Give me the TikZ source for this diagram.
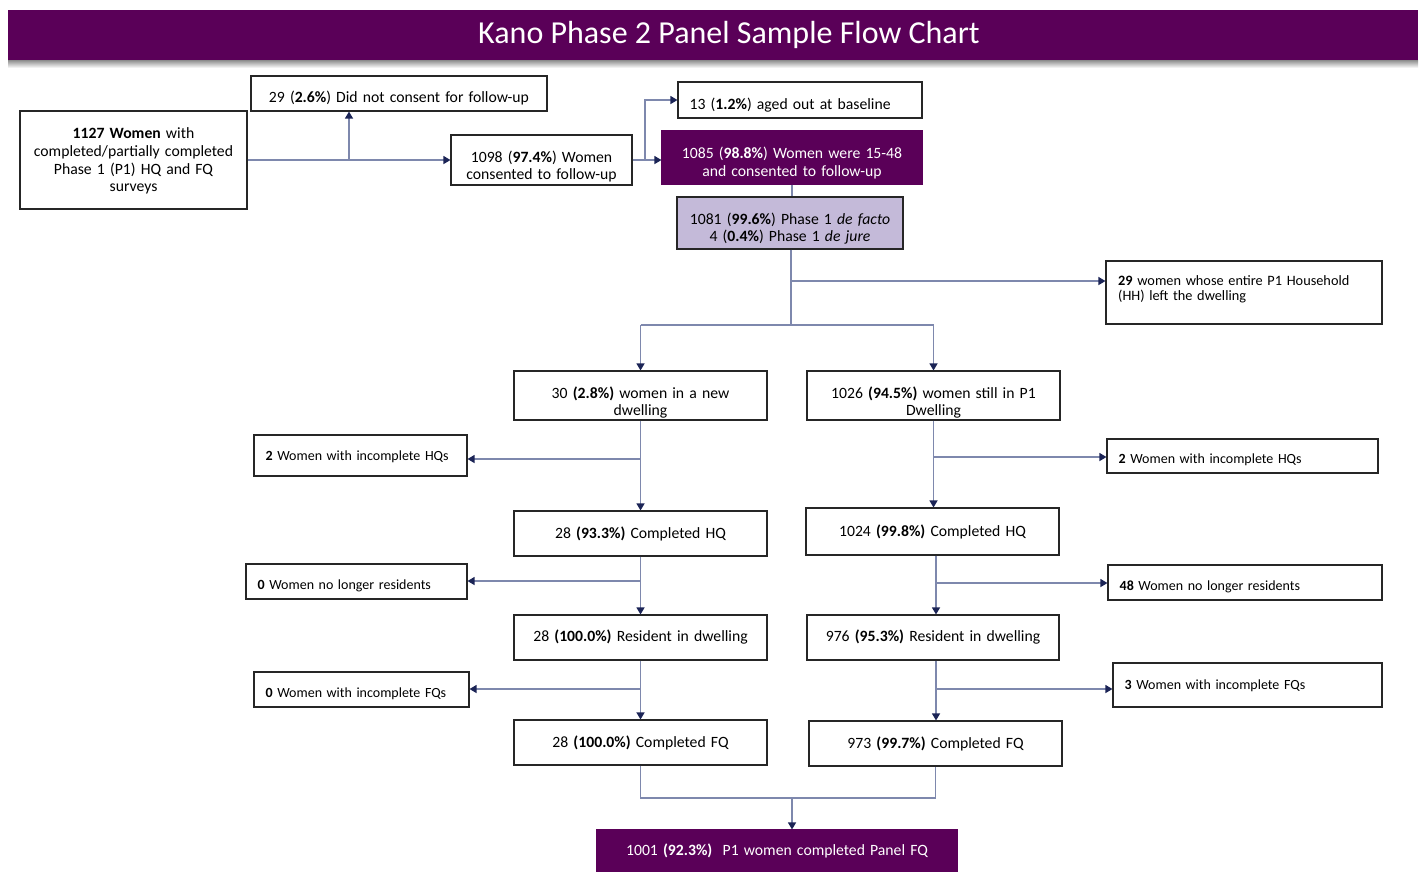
\documentclass[tikz,border=0pt]{standalone}
\usepackage{fontspec}
\setmainfont{Carlito}[WordSpace=1.45]
\newfontfamily\titlefont{Carlito}
\usetikzlibrary{arrows.meta,calc}
\definecolor{purp}{RGB}{90,0,88}
\definecolor{lpurp}{RGB}{196,186,217}
\definecolor{lc}{RGB}{126,136,173}
\definecolor{navy}{RGB}{27,36,86}
\tikzset{
  box/.style={draw=black!85, line width=1.1pt, fill=white, inner sep=0pt},
  pbox/.style={draw=purp, line width=1.1pt, fill=purp, inner sep=0pt},
  tc/.style={inner sep=0pt, align=center, font=\fontsize{15.7}{17.7}\selectfont},
  tl/.style={inner sep=0pt, anchor=west, align=left, font=\fontsize{14}{15}\selectfont},
  ln/.style={draw=lc, line width=1.3pt},
  arr/.style={ln, -{Triangle[length=7pt,width=8pt,color=navy]}},
}
\begin{document}
\begin{tikzpicture}[x=1pt,y=-1pt]
\useasboundingbox (0,0) rectangle (1422,871);
% title bar
\shade[top color=black!45, bottom color=white] (8,60) rectangle (1418,68);
\fill[purp] (8,10) rectangle (1418,60);
\node[text=white, font=\titlefont\fontsize{32}{36}\selectfont] (title) at (729,35) {Kano Phase 2 Panel Sample Flow Chart};

% boxes
\node[box, minimum width=227pt, minimum height=98pt] (A) at (133.5,160) {};
\node[tc] (At) at ([yshift=-1pt]A.center)
  {\textbf{1127 Women} with\\ completed/partially completed\\ Phase 1 (P1) HQ and FQ\\ surveys};
\node[box, minimum width=296pt, minimum height=35pt] (B) at (399,93.5) {};
\node[tc] (Bt) at ([yshift=-5pt]B.center) {29 (\textbf{2.6\%}) Did not consent for follow-up};
\node[box, minimum width=181pt, minimum height=50pt] (C) at (541.5,160) {};
\node[tc] (Ct) at ([yshift=-6.5pt]C.center) {1098 (\textbf{97.4\%}) Women\\ consented to follow-up};
\node[box, minimum width=244pt, minimum height=36pt] (D) at (800,100) {};
\node[tl, font=\fontsize{15.7}{17.7}\selectfont] (Dt) at ([xshift=12pt,yshift=-5pt]D.west) {13 (\textbf{1.2\%}) aged out at baseline};
\node[pbox, minimum width=260pt, minimum height=53pt] (E) at (792,157.5) {};
\node[tc, text=white] (Et) at ([yshift=-5.5pt]E.center) {1085 (\textbf{98.8\%}) Women were 15-48\\ and consented to follow-up};
\node[box, fill=lpurp, minimum width=226pt, minimum height=52pt] (F) at (790,223) {};
\node[tc] (Ft) at ([yshift=-5.5pt]F.center) {1081 (\textbf{99.6\%}) Phase 1 \textit{de facto}\\ 4 (\textbf{0.4\%}) Phase 1 \textit{de jure}};
\node[box, minimum width=276pt, minimum height=63pt] (G) at (1244,292.5) {};
\node[anchor=north west, inner sep=0pt, align=left, font=\fontsize{14.3}{15}\selectfont] (Gt) at (1118,275.5)
  {\textbf{29} women whose entire P1 Household\\ (HH) left the dwelling};

\node[box, minimum width=253pt, minimum height=49pt] (H) at (640.5,395.5) {};
\node[tc] (Ht) at ([yshift=-7pt]H.center) {30 \textbf{(2.8\%)} women in a new\\ dwelling};
\node[box, minimum width=253pt, minimum height=49pt] (I) at (933.5,395.5) {};
\node[tc] (It) at ([yshift=-7pt]I.center) {1026 \textbf{(94.5\%)} women still in P1\\ Dwelling};
\node[box, minimum width=213pt, minimum height=41pt] (J) at (360.5,455.5) {};
\node[tl] (Jt) at ([xshift=12pt,yshift=-1.5pt]J.west) {\textbf{2} Women with incomplete HQs};
\node[box, minimum width=271pt, minimum height=34pt] (K) at (1242.5,456) {};
\node[tl] (Kt) at ([xshift=12pt,yshift=-4pt]K.west) {\textbf{2} Women with incomplete HQs};
\node[box, minimum width=253pt, minimum height=45pt] (L) at (640.5,533.5) {};
\node[tc] (Lt) at (L.center) {28 \textbf{(93.3\%)} Completed HQ};
\node[box, minimum width=253pt, minimum height=47pt] (M) at (932.5,531.5) {};
\node[tc] (Mt) at (M.center) {1024 \textbf{(99.8\%)} Completed HQ};
\node[box, minimum width=221pt, minimum height=35pt] (N) at (356.5,581.5) {};
\node[tl] (Nt) at ([xshift=12pt,yshift=-4pt]N.west) {\textbf{0} Women no longer residents};
\node[box, minimum width=274pt, minimum height=35pt] (O) at (1245,582.5) {};
\node[tl] (Ot) at ([xshift=12pt,yshift=-4pt]O.west) {\textbf{48} Women no longer residents};
\node[box, minimum width=253pt, minimum height=45pt] (P) at (640.5,637.5) {};
\node[tc] (Pt) at (P.center) {28 \textbf{(100.0\%)} Resident in dwelling};
\node[box, minimum width=252pt, minimum height=45pt] (Q) at (933,637.5) {};
\node[tc] (Qt) at (Q.center) {976 \textbf{(95.3\%)} Resident in dwelling};
\node[box, minimum width=215pt, minimum height=35pt] (R) at (361.5,689.5) {};
\node[tl] (Rt) at ([xshift=12pt,yshift=-4pt]R.west) {\textbf{0} Women with incomplete FQs};
\node[box, minimum width=269pt, minimum height=44pt] (S) at (1247.5,685) {};
\node[tl] (St) at ([xshift=12pt,yshift=-1pt]S.west) {\textbf{3} Women with incomplete FQs};
\node[box, minimum width=253pt, minimum height=45pt] (T) at (640.5,742.5) {};
\node[tc] (Tt) at (T.center) {28 \textbf{(100.0\%)} Completed FQ};
\node[box, minimum width=253pt, minimum height=45pt] (U) at (935.5,743.5) {};
\node[tc] (Ut) at (U.center) {973 \textbf{(99.7\%)} Completed FQ};
\node[pbox, minimum width=360pt, minimum height=42pt] (V) at (777,851) {};
\node[tc, text=white] (Vt) at (V.center) {1001 \textbf{(92.3\%)}\ \ P1 women completed Panel FQ};

% connectors
\coordinate (a1) at (349,160);
\draw[arr] (A.east) -- (C.west);
\draw[arr] (a1) -- (a1 |- B.south);
\coordinate (c1) at (645,160);
\draw[arr] (C.east) -- (C.east -| E.west);
\draw[arr] (c1) -- (c1 |- D.west) -- (D.west);
\draw[ln] (E.south) -- (E.south |- F.north);
\coordinate (f1) at (791,281);
\coordinate (f2) at (791,325);
\draw[ln] (F.south -| f2) -- (f2);
\draw[arr] (f1) -- (f1 -| G.west);
\draw[ln] (f2 -| H.north) -- (f2 -| I.north);
\draw[arr] (f2 -| H.north) -- (H.north);
\draw[arr] (f2 -| I.north) -- (I.north);

\coordinate (h1) at (640.5,459);
\draw[arr] (H.south) -- (L.north);
\draw[arr] (h1) -- (h1 -| J.east);
\coordinate (i1) at (933.5,457);
\draw[arr] (I.south) -- (I.south |- M.north);
\draw[arr] (i1) -- (i1 -| K.west);

\coordinate (l1) at (640.5,581);
\draw[arr] (L.south) -- (P.north);
\draw[arr] (l1) -- (l1 -| N.east);
\coordinate (m1) at (936,583);
\draw[arr] (M.south -| m1) -- (m1 |- Q.north);
\draw[arr] (m1) -- (m1 -| O.west);

\coordinate (p1) at (640.5,689);
\draw[arr] (P.south) -- (T.north);
\draw[arr] (p1) -- (p1 -| R.east);
\coordinate (q1) at (936,689);
\draw[arr] (Q.south -| q1) -- (q1 |- U.north);
\draw[arr] (q1) -- (q1 -| S.west);

\coordinate (b1) at (792,798);
\draw[ln] (T.south) -- (T.south |- b1) -- (U.south |- b1) -- (U.south);
\draw[arr] (b1) -- (b1 |- V.north);
\end{tikzpicture}
\end{document}
